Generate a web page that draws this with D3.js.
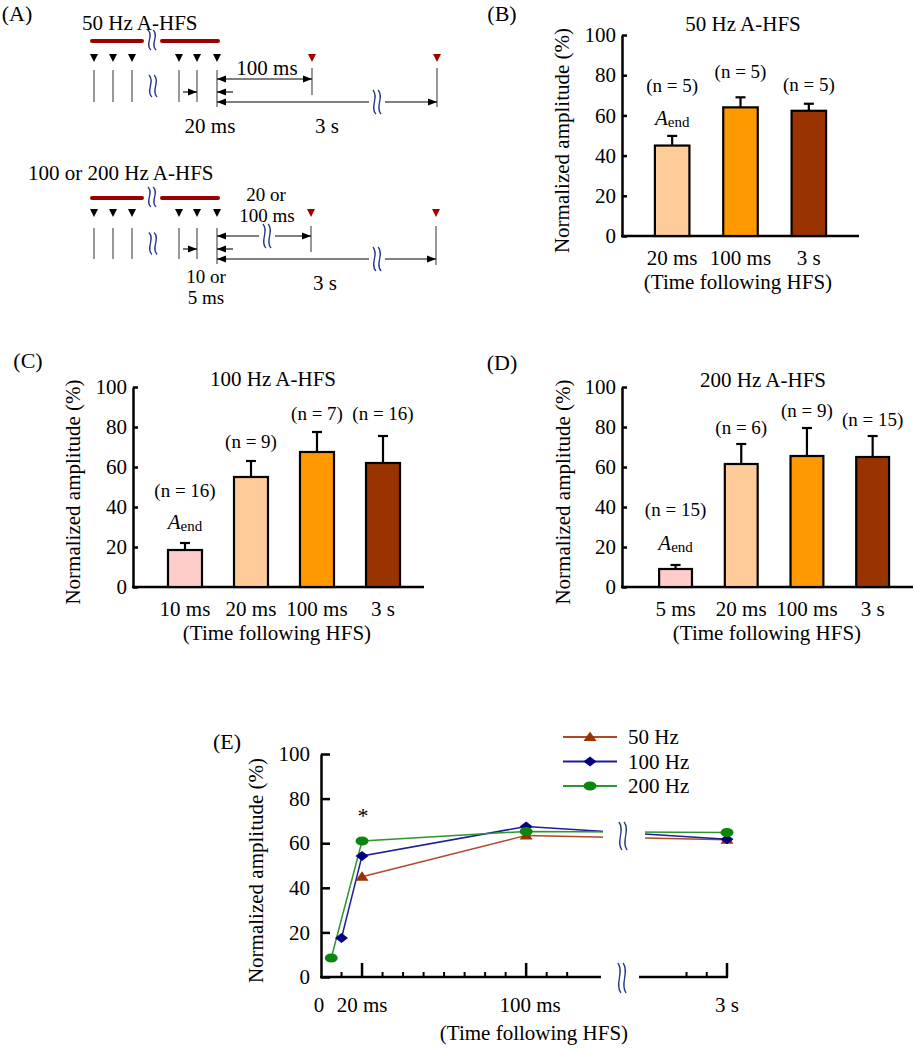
<!DOCTYPE html>
<html>
<head>
<meta charset="utf-8">
<script src="https://cdn.jsdelivr.net/npm/d3@7"></script>
<style>
  body { margin: 0; background: #fff; }
  svg { display: block; font-family: "Liberation Serif", "Times New Roman", serif; }
</style>
</head>
<body>
<div id="chart"></div>
<script>
// ---- data ----
// (B) 50 Hz A-HFS
const catsB = ["20 ms", "100 ms", "3 s"];
const meanB = [45, 64, 62.3];
const semB = [4.8, 5, 3.5];
const nB = [5, 5, 5];
// (C) 100 Hz A-HFS
const catsC = ["10 ms", "20 ms", "100 ms", "3 s"];
const meanC = [18.5, 55, 67.5, 62];
const semC = [3.5, 8, 10, 13.5];
const nC = [16, 9, 7, 16];
// (D) 200 Hz A-HFS
const catsD = ["5 ms", "20 ms", "100 ms", "3 s"];
const meanD = [9, 61.5, 65.5, 65];
const semD = [2, 10, 14, 10.5];
const nD = [15, 6, 9, 15];
// (E) time course (ms after HFS)
const seriesNames = ["50 Hz", "100 Hz", "200 Hz"];
const timeE50 = [20, 100, 3000];
const ampE50 = [45, 63.5, 61.5];
const timeE100 = [10, 20, 100, 3000];
const ampE100 = [17.5, 54.3, 67.5, 61.8];
const timeE200 = [5, 20, 100, 3000];
const ampE200 = [8.5, 61, 65.3, 64.8];
const yTicks = [0, 20, 40, 60, 80, 100];
const xMinorE = [10, 30, 40, 50, 60, 70, 80, 90, 110, 120, 2980, 2990];
const xMajorE = [20, 100, 3000];
const xLabelValsE = [0, 20, 100, 3000];
const xLabelsE = ["0", "20 ms", "100 ms", "3 s"];

const barColours3 = ["#FFCC99", "#FF9900", "#993300"];
const barColours4 = ["#FFCCCC", "#FFCC99", "#FF9900", "#993300"];

const svg = d3.select("#chart").append("svg")
  .attr("width", 915).attr("height", 1050);

function squiggle(g, cx, cy, h, colour = "#23388a") {
  [-2.6, 2.6].forEach((dx) => {
    const x = cx + dx;
    g.append("path")
      .attr("d", `M${x - 1.5},${cy - h / 2} C${x + 5},${cy - h / 5} ${x - 5},${cy + h / 5} ${x + 1.5},${cy + h / 2}`)
      .attr("fill", "none").attr("stroke", colour).attr("stroke-width", 1.3);
  });
}

function label(g, x, y, txt, size = 21, anchor = "middle") {
  return g.append("text").attr("x", x).attr("y", y)
    .attr("text-anchor", anchor).attr("dominant-baseline", "central")
    .style("font-size", size + "px").text(txt);
}

// ---- bar panels ----
function barPanel(cfg) {
  const g = svg.append("g");
  const x = d3.scaleBand().domain(cfg.cats).range(cfg.band)
    .paddingInner(cfg.pad).paddingOuter(cfg.pad / 2);
  const y = d3.scaleLinear().domain([0, 100]).range([cfg.y0, cfg.y100]);

  const ax = g.append("g").attr("transform", `translate(${cfg.ax},0)`)
    .call(d3.axisLeft(y).tickValues(yTicks).tickSizeInner(-5).tickSizeOuter(0).tickPadding(6));
  ax.selectAll("path, line").attr("stroke", "#000").attr("stroke-width", 2.5);
  ax.selectAll("text").style("font-size", "21px").attr("fill", "#000");
  ax.attr("font-family", null).attr("font-size", null);

  g.append("line").attr("x1", cfg.ax - 1).attr("x2", cfg.axEnd)
    .attr("y1", cfg.y0).attr("y2", cfg.y0)
    .attr("stroke", "#000").attr("stroke-width", 2.5);

  const data = cfg.cats.map((c, i) => ({ c, m: cfg.means[i], s: cfg.sems[i], n: cfg.ns[i], col: cfg.colours[i], nAt: cfg.nAt[i] }));

  g.selectAll(".bar").data(data).join("rect")
    .attr("x", (d) => x(d.c)).attr("width", x.bandwidth())
    .attr("y", (d) => y(d.m)).attr("height", (d) => cfg.y0 - y(d.m))
    .attr("fill", (d) => d.col).attr("stroke", "#000").attr("stroke-width", 2.2);

  const cx = (d) => x(d.c) + x.bandwidth() / 2;
  g.selectAll(".err").data(data).join("line")
    .attr("x1", cx).attr("x2", cx)
    .attr("y1", (d) => y(d.m)).attr("y2", (d) => y(d.m + d.s))
    .attr("stroke", "#000").attr("stroke-width", 2.2);
  g.selectAll(".cap").data(data).join("line")
    .attr("x1", (d) => cx(d) - 5).attr("x2", (d) => cx(d) + 5)
    .attr("y1", (d) => y(d.m + d.s)).attr("y2", (d) => y(d.m + d.s))
    .attr("stroke", "#000").attr("stroke-width", 2.2);

  g.selectAll(".nlab").data(data).join("text")
    .attr("x", cx).attr("y", (d) => y(d.nAt))
    .attr("text-anchor", "middle").attr("dominant-baseline", "central")
    .style("font-size", "19px").text((d) => `(n = ${d.n})`);

  const a = g.append("text").attr("x", cx(data[0])).attr("y", y(cfg.aendAt))
    .attr("text-anchor", "middle").attr("dominant-baseline", "central");
  a.append("tspan").style("font-style", "italic").style("font-size", "21px").text("A");
  a.append("tspan").style("font-size", "15px").attr("dy", 4).text("end");

  g.selectAll(".xlab").data(data).join("text")
    .attr("x", cx).attr("y", cfg.y0 + 22)
    .attr("text-anchor", "middle").attr("dominant-baseline", "central")
    .style("font-size", "21px").text((d) => d.c);

  label(g, cfg.xTitleX, cfg.y0 + 46, "(Time following HFS)");
  label(g, cfg.title[0], cfg.title[1], cfg.title[2]);
  label(g, cfg.tag[0], cfg.tag[1], cfg.tag[2], 22);
  label(g, 0, 0, "Normalized amplitude (%)")
    .attr("transform", `translate(${cfg.ylx},${(cfg.y0 + cfg.y100) / 2 + 5}) rotate(-90)`);
}

barPanel({
  cats: catsB, means: meanB, sems: semB, ns: nB, colours: barColours3,
  band: [638, 843], pad: 0.495, ax: 622, axEnd: 859, y0: 236, y100: 35,
  nAt: [75, 81.6, 75.6], aendAt: 58.7, xTitleX: 738, ylx: 562,
  title: [743, 24, "50 Hz A-HFS"], tag: [502, 13, "(B)"]
});
barPanel({
  cats: catsC, means: meanC, sems: semC, ns: nC, colours: barColours4,
  band: [152, 416], pad: 0.485, ax: 133, axEnd: 424, y0: 587, y100: 387,
  nAt: [48.5, 73, 87, 87], aendAt: 32.5, xTitleX: 277, ylx: 73,
  title: [273, 379, "100 Hz A-HFS"], tag: [28, 360, "(C)"]
});
barPanel({
  cats: catsD, means: meanD, sems: semD, ns: nD, colours: barColours4,
  band: [642.7, 905.5], pad: 0.5, ax: 622, axEnd: 913, y0: 587, y100: 387,
  nAt: [39, 80, 88.5, 84], aendAt: 22, xTitleX: 767, ylx: 563,
  title: [763, 380, "200 Hz A-HFS"], tag: [502, 362, "(D)"]
});

// ---- panel A: stimulation schematic ----
const gA = svg.append("g");
label(gA, 17, 13, "(A)", 22);

function arrowHead(g, x, y, dir) {
  g.append("path")
    .attr("d", `M${x},${y} L${x - dir * 9},${y - 3.5} L${x - dir * 9},${y + 3.5} Z`)
    .attr("fill", "#000");
}
function arrow(g, x1, x2, y, heads, brk) {
  if (brk) {
    g.append("line").attr("x1", x1).attr("x2", brk - 8).attr("y1", y).attr("y2", y).attr("stroke", "#000").attr("stroke-width", 1.1);
    g.append("line").attr("x1", brk + 8).attr("x2", x2).attr("y1", y).attr("y2", y).attr("stroke", "#000").attr("stroke-width", 1.1);
    squiggle(g, brk, y, 24);
  } else {
    g.append("line").attr("x1", x1).attr("x2", x2).attr("y1", y).attr("y2", y).attr("stroke", "#000").attr("stroke-width", 1.1);
  }
  if (heads.includes("L")) arrowHead(g, x1, y, -1);
  if (heads.includes("R")) arrowHead(g, x2, y, 1);
}
function vline(g, x, y1, y2) {
  g.append("line").attr("x1", x).attr("x2", x).attr("y1", y1).attr("y2", y2)
    .attr("stroke", "#444").attr("stroke-width", 1.1);
}
function pulseMark(g, x, y, colour) {
  g.append("path").attr("d", `M${x - 4},${y - 4} L${x + 4},${y - 4} L${x},${y + 4} Z`).attr("fill", colour);
}

const pulseX = [94, 113, 132, 179, 197, 217];

function schematic(o) {
  label(gA, o.titleX, o.titleY, o.title, 21, "start");
  [[92, 142], [162, 218]].forEach(([a, b]) => {
    gA.append("line").attr("x1", a).attr("x2", b).attr("y1", o.barY).attr("y2", o.barY)
      .attr("stroke", "#990000").attr("stroke-width", 4).attr("stroke-linecap", "round");
  });
  squiggle(gA, 152, o.barY - 1, 20);
  pulseX.forEach((x) => pulseMark(gA, x, o.triY, "#000"));
  o.probeX.forEach((x) => pulseMark(gA, x, o.triY, "#A00000"));
  pulseX.forEach((x, i) => vline(gA, x, o.lineY[0], i === 5 ? o.lineY[1] + 5 : o.lineY[1]));
  squiggle(gA, 153, (o.lineY[0] + o.lineY[1]) / 2, 22);
  vline(gA, o.probeX[0], o.lineY[0] - 2, o.probeEnd[0]);
  vline(gA, o.probeX[1], o.lineY[0] - 2, o.probeEnd[1]);
  // short interval arrows
  arrow(gA, 183, 197, o.shortY, "R");
  arrow(gA, 217, 233, o.shortY, "L");
  // probe interval arrows
  arrow(gA, 217, o.probeX[0], o.midY, "LR", o.midBreak);
  arrow(gA, 217, o.probeX[1], o.longY, "LR", 377);
  o.texts.forEach(([x, y, t, size]) => label(gA, x, y, t, size || 21));
}

schematic({
  title: "50 Hz A-HFS", titleX: 82, titleY: 23, barY: 41, triY: 58,
  lineY: [70, 102], probeX: [312, 437], probeEnd: [95, 107],
  shortY: 92, midY: 79, midBreak: null, longY: 102,
  texts: [[267, 68, "100 ms"], [210, 126, "20 ms"], [327, 126, "3 s"]]
});
schematic({
  title: "100 or 200 Hz A-HFS", titleX: 28, titleY: 173, barY: 198, triY: 213,
  lineY: [228, 259], probeX: [311, 436], probeEnd: [252, 265],
  shortY: 249, midY: 236, midBreak: 267, longY: 259,
  texts: [[266, 194, "20 or", 19], [267, 215, "100 ms", 19], [206, 276, "10 or", 19], [206, 297, "5 ms", 19], [325, 283, "3 s"]]
});

// ---- panel E: time course ----
const gE = svg.append("g");
const xE = d3.scaleLinear().domain([0, 136, 2957, 3000]).range([321, 600, 640, 727]);
const yE = d3.scaleLinear().domain([0, 100]).range([977, 754]);

const axE = gE.append("g").attr("transform", `translate(${xE(0)},0)`)
  .call(d3.axisLeft(yE).tickValues(yTicks).tickSizeInner(-9).tickSizeOuter(0).tickPadding(11));
axE.selectAll("path, line").attr("stroke", "#000").attr("stroke-width", 2.5);
axE.selectAll("text").style("font-size", "21px").attr("fill", "#000");
axE.attr("font-family", null).attr("font-size", null);

[[0, 136], [2957, 3000]].forEach(([a, b]) => {
  gE.append("line").attr("x1", xE(a) - 1).attr("x2", xE(b) + 1)
    .attr("y1", yE(0)).attr("y2", yE(0)).attr("stroke", "#000").attr("stroke-width", 2.5);
});
gE.selectAll(".minor").data(xMinorE).join("line")
  .attr("x1", (d) => xE(d)).attr("x2", (d) => xE(d))
  .attr("y1", yE(0)).attr("y2", yE(0) - 5).attr("stroke", "#000").attr("stroke-width", 2);
gE.selectAll(".major").data(xMajorE).join("line")
  .attr("x1", (d) => xE(d)).attr("x2", (d) => xE(d))
  .attr("y1", yE(0)).attr("y2", yE(0) - 14).attr("stroke", "#000").attr("stroke-width", 2.5);
gE.selectAll(".xl").data(xLabelValsE).join("text")
  .attr("x", (d, i) => xE(d) + (i === 0 ? -2 : i === 2 ? 4 : 0)).attr("y", 1005)
  .attr("text-anchor", "middle").attr("dominant-baseline", "central")
  .style("font-size", "21px").text((d, i) => xLabelsE[i]);
squiggle(gE, 622, 978, 30);

svg.append("defs").append("clipPath").attr("id", "brk")
  .call((cp) => {
    cp.append("rect").attr("x", 0).attr("y", 0).attr("width", 603).attr("height", 1050);
    cp.append("rect").attr("x", 645).attr("y", 0).attr("width", 300).attr("height", 1050);
  });

const seriesE = [
  { name: seriesNames[0], t: timeE50, v: ampE50, line: "#B0472A", mark: "#993300", shape: "tri" },
  { name: seriesNames[1], t: timeE100, v: ampE100, line: "#1E1E96", mark: "#000080", shape: "dia" },
  { name: seriesNames[2], t: timeE200, v: ampE200, line: "#2E962E", mark: "#0B870B", shape: "dot" }
];
const lineGen = d3.line().x((d) => xE(d[0])).y((d) => yE(d[1]));
const gLines = gE.append("g").attr("clip-path", "url(#brk)");
seriesE.forEach((s) => {
  gLines.append("path").datum(s.t.map((t, i) => [t, s.v[i]]))
    .attr("d", lineGen).attr("fill", "none").attr("stroke", s.line).attr("stroke-width", 1.5);
});
function marker(g, shape, x, y, colour) {
  if (shape === "dot") {
    g.append("ellipse").attr("cx", x).attr("cy", y).attr("rx", 6.5).attr("ry", 4.5).attr("fill", colour);
  } else {
    const d = shape === "tri"
      ? `M${x},${y - 5.5} L${x + 6.5},${y + 4} L${x - 6.5},${y + 4} Z`
      : `M${x},${y - 5} L${x + 6.5},${y} L${x},${y + 5} L${x - 6.5},${y} Z`;
    g.append("path").attr("d", d).attr("fill", colour);
  }
}
seriesE.forEach((s) => {
  s.t.forEach((t, i) => marker(gE, s.shape, xE(t), yE(s.v[i]), s.mark));
});
// break marks through the traces
gE.append("rect").attr("x", 612).attr("y", 818).attr("width", 22).attr("height", 36).attr("fill", "#fff");
squiggle(gE, 623, 836, 28);

// legend
seriesE.forEach((s, i) => {
  const y = 737 + i * 24.5;
  gE.append("line").attr("x1", 563).attr("x2", 617).attr("y1", y).attr("y2", y)
    .attr("stroke", s.line).attr("stroke-width", 1.8);
  marker(gE, s.shape, 590, y, s.mark);
  label(gE, 628, y, s.name, 21, "start");
});

label(gE, 363, 815, "*", 22);
label(gE, 227, 741, "(E)", 22);
label(gE, 534, 1033, "(Time following HFS)");
label(gE, 0, 0, "Normalized amplitude (%)")
  .attr("transform", `translate(256,${(yE(0) + yE(100)) / 2 + 5}) rotate(-90)`);
</script>
</body>
</html>
